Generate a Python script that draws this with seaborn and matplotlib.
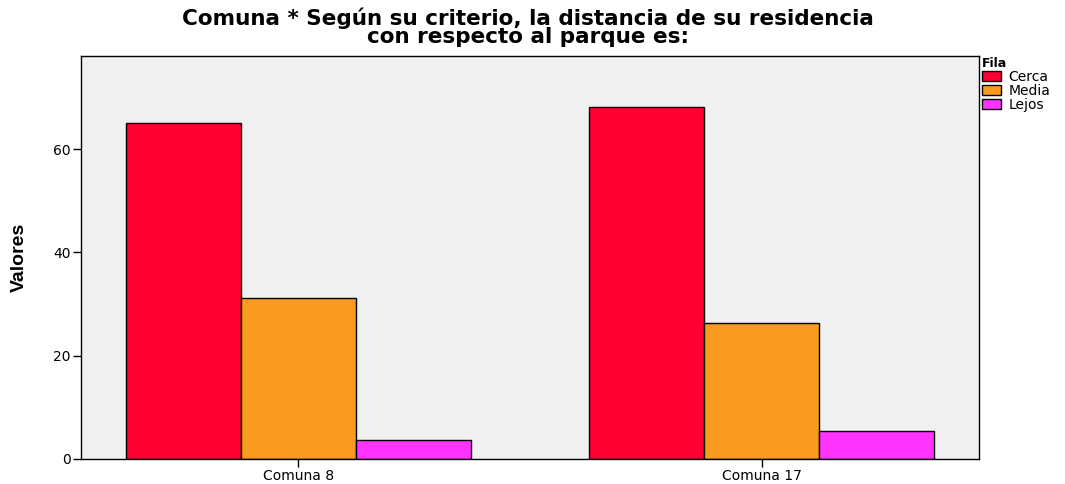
import matplotlib
matplotlib.use("Agg")
import matplotlib.pyplot as plt
import seaborn as sns
import pandas as pd

comunas = ["Comuna 8", "Comuna 17"]
distancias = ["Cerca", "Media", "Lejos"]
cerca = [65.1, 68.1]
media = [31.2, 26.4]
lejos = [3.7, 5.5]
colores = ["#FF0033", "#F99B20", "#FF33FF"]

df = pd.DataFrame({
    "comuna": comunas * 3,
    "fila": [d for d in distancias for _ in comunas],
    "valor": cerca + media + lejos,
})

sns.set_style("white")
plt.rcParams["font.family"] = ["DejaVu Sans"]
plt.rcParams["text.color"] = "black"
plt.rcParams["xtick.color"] = "black"
plt.rcParams["ytick.color"] = "black"
plt.rcParams["axes.labelcolor"] = "black"

fig = plt.figure(figsize=(10.65, 4.84), dpi=100)
ax = fig.add_axes([81 / 1065, 1 - 459 / 484, 898 / 1065, 403 / 484])
sns.barplot(
    data=df, x="comuna", y="valor", hue="fila",
    order=comunas, hue_order=distancias, palette=colores,
    width=0.744, edgecolor="black", linewidth=1, saturation=1, ax=ax,
)
ax.set_facecolor("#F0F0F0")
ax.set_xlim(-0.468, 1.468)
ax.set_ylim(0, 78)
ax.set_yticks([0, 20, 40, 60])
ax.set_xlabel("")
ax.set_ylabel("Valores", fontsize=14, fontweight="bold", labelpad=18,
              family=["Liberation Sans"])
ax.tick_params(axis="both", bottom=True, left=True, length=6, width=1,
               labelsize=10, color="black", direction="out", pad=1.5)
for s in ax.spines.values():
    s.set_color("black")
    s.set_linewidth(1)

fig.suptitle("Comuna * Según su criterio, la distancia de su residencia\ncon respecto al parque es:",
             fontsize=15.5, fontweight="bold", x=528 / 1065, y=0.985, linespacing=0.9)

handles, labels = ax.get_legend_handles_labels()
ax.get_legend().remove()
leg = fig.legend(handles, labels, title="Fila", loc="upper left",
                 bbox_to_anchor=(982 / 1065, 1 - 57 / 484), frameon=False,
                 fontsize=10, handlelength=1.4, handleheight=0.8,
                 handletextpad=0.5, labelspacing=0.0, borderaxespad=0,
                 borderpad=0)
leg.get_title().set_fontweight("bold")
leg.get_title().set_fontsize(9)
leg._legend_box.align = "left"

fig.savefig("out.png", dpi=100)
